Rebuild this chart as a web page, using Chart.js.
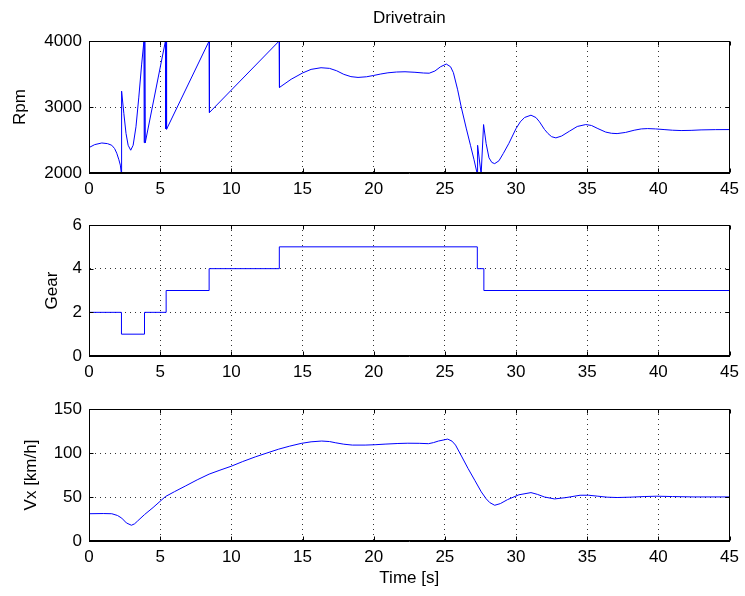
<!DOCTYPE html>
<html><head><meta charset="utf-8">
<script src="https://cdn.jsdelivr.net/npm/chart.js@4.4.0/dist/chart.umd.min.js"></script>
<style>
html,body{margin:0;padding:0;background:#fff;}
#wrap{position:relative;width:745px;height:596px;overflow:hidden;background:#fff;}
.box{position:absolute;left:0;width:745px;}
</style></head><body>
<div id="wrap">
<div class="box" style="top:0;height:200px"><canvas id="c1"></canvas></div>
<div class="box" style="top:200px;height:180px"><canvas id="c2"></canvas></div>
<div class="box" style="top:380px;height:216px"><canvas id="c3"></canvas></div>
</div>
<script>
// ---- data ----
const chartTitle = 'Drivetrain';
const xTitle = 'Time [s]';
const timeTicks = [0, 5, 10, 15, 20, 25, 30, 35, 40, 45];
const rpmTicks = [2000, 3000, 4000];
const gearTicks = [0, 2, 4, 6];
const speedTicks = [0, 50, 100, 150];

const rpmTime = [0, 0.4, 0.9, 1.3, 1.6, 1.8, 1.95, 2.1, 2.2, 2.28, 2.29, 2.45, 2.6, 2.75, 2.93, 3.1, 3.3, 3.5, 3.7, 3.86, 3.88, 3.92, 3.95,
  5.37, 5.39, 5.42, 5.45, 8.44, 8.46, 13.36, 13.38,
  14.2, 15.0, 15.6, 16.3, 16.9, 17.4, 17.9, 18.4, 18.9, 19.5, 20.0, 20.5, 21.0, 21.6, 22.2, 22.9, 23.5, 23.9, 24.3, 24.7, 25.1, 25.4, 25.6, 25.9, 26.15, 26.5, 26.8, 27.05, 27.27, 27.3, 27.55, 27.72,
  27.9, 28.1, 28.3, 28.5, 28.8, 29.1, 29.5, 30.0, 30.3, 30.6, 31.05, 31.4, 31.65, 32.0, 32.25, 32.5, 32.8, 33.2, 33.75, 34.3, 34.9, 35.3, 35.75, 36.3, 36.7, 37.1, 37.7, 38.3, 38.8, 39.25, 39.8, 40.4, 41.0, 41.6, 42.3, 43.0, 44.0, 45.0];
const rpmValues = [2385, 2430, 2455, 2445, 2420, 2370, 2300, 2200, 2120, 1980, 3240, 2900, 2600, 2420, 2345, 2420, 2700, 3150, 3650, 4000, 2460, 4000, 2456,
  4000, 2670, 4000, 2663, 4000, 2916, 4000, 3296,
  3420, 3515, 3570, 3595, 3585, 3549, 3495, 3460, 3448, 3458, 3478, 3500, 3518, 3530, 3534, 3526, 3515, 3512, 3545, 3610, 3651, 3610, 3520, 3260, 3000, 2680, 2420, 2200, 1990, 2420, 1980, 2734,
  2446, 2230, 2160, 2142, 2185, 2294, 2450, 2673, 2775, 2841, 2876, 2840, 2775, 2660, 2597, 2550, 2532, 2560, 2633, 2705, 2734, 2720, 2673, 2620, 2602, 2597, 2615, 2648, 2668, 2673, 2668, 2658, 2648, 2643, 2646, 2653, 2657, 2658];

const gearTime = [0, 2.28, 3.9, 5.42, 8.44, 13.37, 27.28, 27.74, 45];
const gearValues = [2, 1, 2, 3, 4, 5, 4, 3, 3];

const speedTime = [0, 1.0, 1.6, 2.0, 2.3, 2.63, 2.98, 3.2, 3.4, 3.9, 4.5, 5.37, 6.0, 6.8, 7.6, 8.44, 9.2, 10.0, 10.8, 11.7, 12.5, 13.33, 14.1, 14.9, 15.6, 16.35, 16.9, 17.3, 17.9, 18.5, 19.4, 20.1, 20.8, 21.7, 22.4, 23.2, 23.85, 24.2, 24.55, 25.2, 25.5, 25.75, 26.2, 26.63, 27.1, 27.56, 27.9, 28.15, 28.5, 28.9, 29.4, 30.2, 31.05, 31.5, 32.0, 32.7, 33.5, 34.5, 35.1, 35.7, 36.4, 37.1, 38.0, 39.0, 39.9, 41.0, 42.5, 45.0];
const speedValues = [31, 31.2, 31, 29, 26, 20.5, 17.9, 19.5, 22.5, 30, 38, 50.5, 56, 62.7, 69.5, 76, 80.5, 85, 90.3, 95.7, 100, 104.4, 107.8, 110.9, 112.7, 113.6, 113, 111.7, 110, 109, 109, 109.4, 110.1, 110.8, 111.1, 111, 110.6, 111.8, 113.6, 115.8, 113.5, 109, 95.5, 82.4, 69, 55.8, 48, 43.7, 40.6, 42.5, 47, 52.5, 55, 53, 50, 47.8, 49.3, 52, 52, 51, 49.8, 49.4, 49.8, 50.5, 50.9, 50.5, 50.1, 50.1];

// ---- styling ----
const FONT = 'Liberation Sans, Arial, Helvetica, sans-serif';
const FS = 17;
const PLOT_LEFT = 89;
const PLOT_RIGHT_PAD = 13;

const framePlugin = {
  id: 'frame',
  afterDatasetsDraw(chart) {
    const {ctx, chartArea: a, scales} = chart;
    const l = Math.round(a.left) + 0.5, r = Math.round(a.right) - 0.5;
    const t = Math.round(a.top) + 0.5, b = Math.round(a.bottom) - 0.5;
    ctx.save();
    ctx.strokeStyle = '#000';
    ctx.lineWidth = 1;
    const tl = 4;
    ctx.beginPath();
    scales.x.ticks.forEach(tk => {
      const px = Math.round(scales.x.getPixelForValue(tk.value)) + 0.5;
      ctx.moveTo(px, b); ctx.lineTo(px, b - tl);
      ctx.moveTo(px, t); ctx.lineTo(px, t + tl);
    });
    scales.y.ticks.forEach(tk => {
      const py = Math.round(scales.y.getPixelForValue(tk.value)) + 0.5;
      ctx.moveTo(l, py); ctx.lineTo(l + tl, py);
      ctx.moveTo(r, py); ctx.lineTo(r - tl, py);
    });
    ctx.stroke();
    ctx.strokeRect(l, t, r - l, b - t);
    ctx.restore();
  }
};

function toPoints(xs, ys) { return xs.map((x, i) => ({x: x, y: ys[i]})); }

function makeChart(id, cfg) {
  const ticksFrom = arr => (scale) => { scale.ticks = arr.map(v => ({value: v})); };
  return new Chart(document.getElementById(id), {
    type: 'line',
    data: {
      datasets: [{
        data: toPoints(cfg.xs, cfg.ys),
        borderColor: '#0000ff',
        borderWidth: 1,
        pointRadius: 0,
        tension: 0,
        stepped: cfg.stepped || false,
        fill: false
      }]
    },
    options: {
      responsive: true,
      maintainAspectRatio: false,
      animation: false,
      events: [],
      layout: {padding: {left: cfg.leftPad, right: PLOT_RIGHT_PAD, top: cfg.topPad, bottom: 0}},
      plugins: {
        legend: {display: false},
        tooltip: {enabled: false},
        title: cfg.title ? {
          display: true, text: cfg.title, fullSize: false, color: '#000',
          font: {family: FONT, size: FS, weight: 'normal'},
          padding: {top: 8, bottom: 12.6}
        } : {display: false}
      },
      scales: {
        x: {
          type: 'linear', min: 0, max: 45,
          afterBuildTicks: ticksFrom(timeTicks),
          afterFit: s => { s.height = cfg.xHeight; },
          ticks: {color: '#000', font: {family: FONT, size: FS}, padding: 6, maxRotation: 0, autoSkip: false,
                  callback: v => String(v)},
          grid: {color: '#333', lineWidth: 1, drawTicks: false},
          border: {display: true, color: '#000', width: 1, dash: [1, 4]},
          title: cfg.xTitle ? {display: true, text: cfg.xTitle, color: '#000',
                  font: {family: FONT, size: FS}, padding: {top: 0, bottom: 7}} : {display: false}
        },
        y: {
          type: 'linear', min: cfg.yTicks[0], max: cfg.yTicks[cfg.yTicks.length - 1],
          afterBuildTicks: ticksFrom(cfg.yTicks),
          afterFit: s => { s.width = PLOT_LEFT - cfg.leftPad; },
          ticks: {color: '#000', font: {family: FONT, size: FS}, padding: 7, autoSkip: false,
                  callback: v => String(v)},
          grid: {color: '#333', lineWidth: 1, drawTicks: false},
          border: {display: true, color: '#000', width: 1, dash: [1, 4]},
          title: {display: true, text: cfg.yTitle, color: '#000',
                  font: {family: FONT, size: FS}, padding: {top: 4, bottom: 4}}
        }
      }
    },
    plugins: [framePlugin]
  });
}

makeChart('c1', {xs: rpmTime, ys: rpmValues, yTicks: rpmTicks, yTitle: 'Rpm',
  leftPad: 6, topPad: 0, xHeight: 27, title: chartTitle});
makeChart('c2', {xs: gearTime, ys: gearValues, yTicks: gearTicks, yTitle: 'Gear',
  leftPad: 38, topPad: 25, xHeight: 24, stepped: 'before'});
makeChart('c3', {xs: speedTime, ys: speedValues, yTicks: speedTicks, yTitle: 'Vx [km/h]',
  leftPad: 17, topPad: 29, xHeight: 55, xTitle: xTitle});
</script>
</body></html>
